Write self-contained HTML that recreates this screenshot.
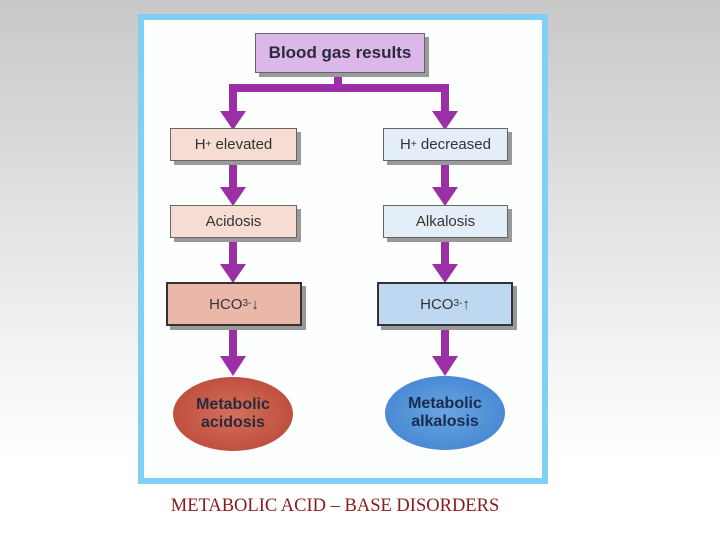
<!DOCTYPE html>
<html><head><meta charset="utf-8"><style>
body{margin:0;width:720px;height:540px;overflow:hidden;background:linear-gradient(#c8c8c8 0%,#e6e6e6 45%,#fff 85%,#fff 100%);position:relative;font-family:"Liberation Sans",sans-serif}
.frame{position:absolute;left:138px;top:14px;width:398px;height:458px;border:6px solid #80cff4;background:#fdfefe}
.b{position:absolute;box-sizing:border-box;border:1px solid #666;box-shadow:4px 4px 0 #999;display:flex;align-items:center;justify-content:center;color:#333;font-size:15px}
.e{position:absolute;border-radius:50%;display:flex;align-items:center;justify-content:center;text-align:center;font-weight:bold;font-size:16px;line-height:18px;color:#2a2a3a}
.cap{position:absolute;left:0;width:670px;top:496px;text-align:center;font-family:"Liberation Serif",serif;font-size:18.5px;color:#8b1a1a}
sup,sub{line-height:0}
</style></head><body>
<div class="frame"></div>
<svg style="position:absolute;left:0;top:0" width="720" height="540">
<g fill="#9b2fa6" stroke="none">
<rect x="334" y="72" width="8" height="18"/>
<rect x="229" y="84" width="220" height="8"/>
<rect x="229" y="84" width="8" height="30"/><polygon points="220,111 246,111 233,130"/>
<rect x="441" y="84" width="8" height="30"/><polygon points="432,111 458,111 445,130"/>
<rect x="229" y="160" width="8" height="30"/><polygon points="220,187 246,187 233,206"/>
<rect x="441" y="160" width="8" height="30"/><polygon points="432,187 458,187 445,206"/>
<rect x="229" y="237" width="8" height="30"/><polygon points="220,264 246,264 233,283"/>
<rect x="441" y="237" width="8" height="30"/><polygon points="432,264 458,264 445,283"/>
<rect x="229" y="325" width="8" height="36"/><polygon points="220,356 246,356 233,376"/>
<rect x="441" y="325" width="8" height="36"/><polygon points="432,356 458,356 445,376"/>
</g></svg>
<div class="b" style="left:255px;top:33px;width:170px;height:40px;background:#dcb8ea;font-weight:bold;color:#2a2a3a;font-size:17px">Blood gas results</div>
<div class="b" style="left:170px;top:128px;width:127px;height:33px;background:#f6dcd2">H<sup style="font-size:10px">+</sup>&nbsp;elevated</div>
<div class="b" style="left:383px;top:128px;width:125px;height:33px;background:#e3eef8">H<sup style="font-size:10px">+</sup>&nbsp;decreased</div>
<div class="b" style="left:170px;top:205px;width:127px;height:33px;background:#f6dcd2">Acidosis</div>
<div class="b" style="left:383px;top:205px;width:125px;height:33px;background:#e3eef8">Alkalosis</div>
<div class="b" style="left:166px;top:282px;width:136px;height:44px;background:#eab8a8;border:2px solid #333">HCO<sub style="font-size:10px">3</sub><sup style="font-size:10px">-</sup>↓</div>
<div class="b" style="left:377px;top:282px;width:136px;height:44px;background:#bfd8f2;border:2px solid #333">HCO<sub style="font-size:10px">3</sub><sup style="font-size:10px">-</sup>↑</div>
<div class="e" style="left:173px;top:377px;width:120px;height:74px;background:radial-gradient(#d4705e,#c0503f 70%,#d88a7c)">Metabolic<br>acidosis</div>
<div class="e" style="left:385px;top:376px;width:120px;height:74px;background:radial-gradient(#6aa6e0,#4a8ad4 70%,#8ab8e8);color:#1a2a50">Metabolic<br>alkalosis</div>
<div class="cap">METABOLIC ACID – BASE DISORDERS</div>
</body></html>
